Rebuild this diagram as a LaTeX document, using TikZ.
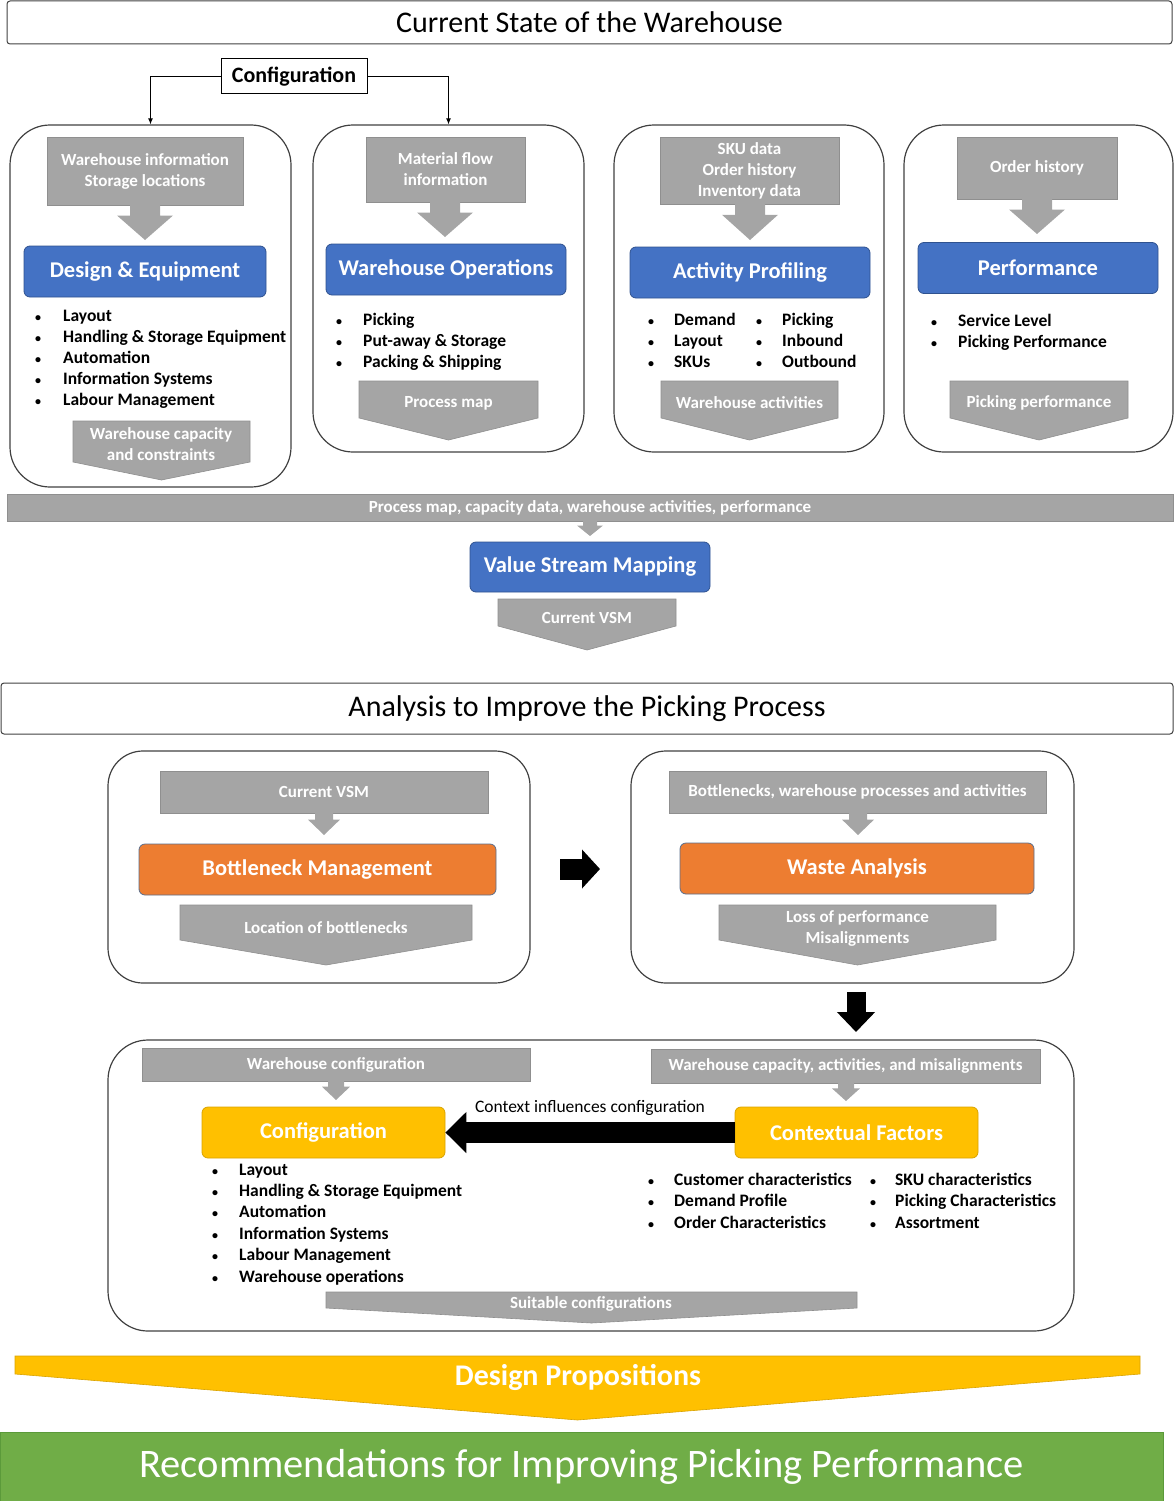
\documentclass[tikz,border=0pt]{standalone}
\usepackage{fontspec}
\setmainfont{Carlito}
\usetikzlibrary{arrows.meta}

\definecolor{gryfill}{HTML}{A5A5A5}
\definecolor{gryline}{HTML}{8F8F8F}
\definecolor{bluefill}{HTML}{4472C4}
\definecolor{blueline}{HTML}{2F528F}
\definecolor{orgfill}{HTML}{ED7D31}
\definecolor{orgline}{HTML}{5A6E8C}
\definecolor{yelfill}{HTML}{FFC000}
\definecolor{yelline}{HTML}{D9A300}
\definecolor{grnfill}{HTML}{70AD47}
\definecolor{grnline}{HTML}{5B9A3A}
\definecolor{frame}{HTML}{404040}

\newcommand\fs[2]{\fontsize{#1}{#2}\selectfont}
\newcommand\bul{{\fs{12}{12}\textbullet}}
% grey down arrow under an input box: centre x, top y, tip y, head half width, stem half width
\newcommand\ginarrow[5]{%
  \fill[gryfill] ({#1-#5},{#2-1}) -- ({#1+#5},{#2-1}) -- ({#1+#5},{#2+0.3*(#3-#2)})
    -- ({#1+#4},{#2+0.3*(#3-#2)}) -- (#1,#3) -- ({#1-#4},{#2+0.3*(#3-#2)})
    -- ({#1-#5},{#2+0.3*(#3-#2)}) -- cycle;}
% grey pentagon pointing down: left x, right x, top y, shoulder y, tip y
\newcommand\outpent[5]{%
  \filldraw[gryfill, draw=gryline, line width=0.6pt] (#1,#3) -- (#2,#3) -- (#2,#4)
    -- ({(#1+#2)/2},#5) -- (#1,#4) -- cycle;}

\tikzset{
  titlebox/.style={draw=frame, line width=1pt, rounded corners=3pt, inner sep=0pt,
    font=\fs{30}{34}},
  grp/.style={draw=frame, line width=1.2pt, inner sep=0pt},
  gin/.style={fill=gryfill, draw=gryline, line width=0.6pt, text=white, inner sep=0pt,
    align=center, font=\bfseries\fs{17}{21}},
  glabel/.style={text=white, inner sep=0pt, align=center, font=\bfseries\fs{17}{21}},
  bluebox/.style={fill=bluefill, draw=blueline, line width=0.8pt, rounded corners=6pt,
    text=white, inner sep=0pt, font=\bfseries\fs{22.5}{26}},
  orgbox/.style={bluebox, fill=orgfill, draw=orgline},
  yelbox/.style={bluebox, fill=yelfill, draw=yelline},
  blist/.style={anchor=base west, inner sep=0pt, font=\bfseries\fs{17.5}{21}},
  conn/.style={draw=black, line width=1pt, -{Latex[length=6pt,width=5pt]}},
  bigarrow/.style={draw=black, line width=#1pt},
}

\begin{document}
\begin{tikzpicture}[x=1pt, y=-1pt]
\useasboundingbox (0,0) rectangle (1175,1501);

% ---------------- Current state ----------------
\node[titlebox, minimum width=1165, minimum height=43] (t1) at (589.5,22.5)
  {Current State of the Warehouse};

\node[draw=black, line width=1pt, inner sep=0pt, minimum width=146, minimum height=35,
  font=\bfseries\fs{22}{26}] (cfgtop) at (294,76.5) {Configuration};

\node[grp, rounded corners=40pt, minimum width=281, minimum height=362] (g1) at (150.5,306) {};
\node[grp, rounded corners=40pt, minimum width=271, minimum height=327] (g2) at (448.5,288.5) {};
\node[grp, rounded corners=40pt, minimum width=270, minimum height=327] (g3) at (749,288.5) {};
\node[grp, rounded corners=40pt, minimum width=269, minimum height=327] (g4) at (1038.5,288.5) {};

\draw[conn] (cfgtop.west) -| (g1.north);
\draw[conn] (cfgtop.east) -| (g2.north);

% Design & Equipment
\node[gin, minimum width=196, minimum height=68] (in1) at (145,171)
  {Warehouse information\\Storage locations};
\ginarrow{145}{205}{240}{28}{15}
\node[bluebox, minimum width=242, minimum height=51] (de) at (145,271.5) {Design \& Equipment};
\node[blist] (l1) at (35,321) {\begin{tabular}[t]{@{}p{28pt}@{}l@{}}
  \bul & Layout\\ \bul & Handling \& Storage Equipment\\
  \bul & Automation\\ \bul & Information Systems\\
  \bul & Labour Management\end{tabular}};
\outpent{73}{250}{421}{462}{480}
\node[glabel] (o1) at (161,444.5) {Warehouse capacity\\and constraints};

% Warehouse Operations
\node[gin, minimum width=159, minimum height=65] (in2) at (445.5,169.5)
  {Material flow\\information};
\ginarrow{445}{202}{237}{28}{15}
\node[bluebox, minimum width=240, minimum height=51] (wo) at (446,269.5) {Warehouse Operations};
\node[blist] (l2) at (336,325) {\begin{tabular}[t]{@{}p{27pt}@{}l@{}}
  \bul & Picking\\ \bul & Put-away \& Storage\\
  \bul & Packing \& Shipping\end{tabular}};
\outpent{359}{538}{381}{418}{440}
\node[glabel] (o2) at (448.5,403) {Process map};

% Activity Profiling
\node[gin, minimum width=179, minimum height=67] (in3) at (749.5,170.5)
  {SKU data\\Order history\\Inventory data};
\ginarrow{750}{204}{240}{28}{15}
\node[bluebox, minimum width=240, minimum height=51] (ap) at (750,272.5) {Activity Profiling};
\node[blist] (l3) at (648,325) {\begin{tabular}[t]{@{}p{26pt}@{}p{82pt}@{}p{26pt}@{}l@{}}
  \bul & Demand & \bul & Picking\\
  \bul & Layout & \bul & Inbound\\
  \bul & SKUs & \bul & Outbound\end{tabular}};
\outpent{661}{838}{381}{418}{440}
\node[glabel] (o3) at (749.5,403) {Warehouse activities};

% Performance
\node[gin, minimum width=160, minimum height=62] (in4) at (1037,168) {Order history};
\ginarrow{1037}{199}{234}{28}{15}
\node[bluebox, minimum width=240, minimum height=51] (pf) at (1038,268) {Performance};
\node[blist] (l4) at (931,326) {\begin{tabular}[t]{@{}p{27pt}@{}l@{}}
  \bul & Service Level\\ \bul & Picking Performance\end{tabular}};
\outpent{950}{1128}{381}{418}{440}
\node[glabel] (o4) at (1039,403) {Picking performance};

% Value stream mapping
\node[gin, minimum width=1166, minimum height=27, font=\bfseries\fs{17}{20}] (bar) at (590,507.5)
  {Process map, capacity data, warehouse activities, performance};
\ginarrow{590}{521}{536}{13}{7}
\node[bluebox, minimum width=240, minimum height=50] (vsm) at (590,567) {Value Stream Mapping};
\outpent{498}{676}{599}{626}{650}
\node[glabel] (o5) at (587,618) {Current VSM};

% ---------------- Analysis ----------------
\node[titlebox, minimum width=1172, minimum height=51] (t2) at (587,708.5)
  {Analysis to Improve the Picking Process};

\node[grp, rounded corners=35pt, minimum width=422, minimum height=232] (ga) at (319,867) {};
\node[gin, minimum width=328, minimum height=42] (ina) at (324,792) {Current VSM};
\ginarrow{324}{813}{835}{16}{9}
\node[orgbox, minimum width=357, minimum height=51] (bm) at (317.5,869.5) {Bottleneck Management};
\outpent{180}{472}{905}{940}{965}
\node[glabel] (oa) at (326,928) {Location of bottlenecks};

\node[grp, rounded corners=35pt, minimum width=443, minimum height=232] (gb) at (852.5,867) {};
\node[gin, minimum width=377, minimum height=42] (inb) at (857.5,792)
  {Bottlenecks, warehouse processes and activities};
\ginarrow{858}{813}{835}{16}{9}
\node[orgbox, minimum width=354, minimum height=51] (wa) at (857,868.5) {Waste Analysis};
\outpent{719}{996}{905}{940}{965}
\node[glabel] (ob) at (857.5,928.5) {Loss of performance\\Misalignments};

\coordinate (ab1) at (560,869);
\coordinate (ab2) at (600,869);
\draw[bigarrow=21, -{Triangle[length=18pt,width=38pt]}] (ab1) -- (ab2);
\coordinate (bc1) at (856,992);
\coordinate (bc2) at (856,1032);
\draw[bigarrow=19, -{Triangle[length=20pt,width=37pt]}] (bc1) -- (bc2);

\node[grp, rounded corners=40pt, minimum width=966, minimum height=291] (gc) at (591,1185.5) {};
\node[gin, minimum width=388, minimum height=33] (inc1) at (336,1064.5) {Warehouse configuration};
\ginarrow{336}{1081}{1100}{14}{8}
\node[gin, minimum width=389, minimum height=34] (inc2) at (845.5,1066)
  {Warehouse capacity, activities, and misalignments};
\ginarrow{846}{1083}{1101}{14}{8}
\node[yelbox, minimum width=243, minimum height=51] (conf) at (323.5,1132.5) {Configuration};
\node[yelbox, minimum width=243, minimum height=51] (ctx) at (856.5,1132.5) {Contextual Factors};
\draw[bigarrow=21, -{Triangle[length=21pt,width=40pt]}] (ctx.west) -- (conf.east)
  node[midway, above=7pt, inner sep=0pt, font=\fs{17.5}{20}] (infl) {Context influences configuration};

\node[blist, font=\bfseries\fs{17.5}{21.4}] (lc1) at (212,1175) {\begin{tabular}[t]{@{}p{27pt}@{}l@{}}
  \bul & Layout\\ \bul & Handling \& Storage Equipment\\
  \bul & Automation\\ \bul & Information Systems\\
  \bul & Labour Management\\ \bul & Warehouse operations\end{tabular}};
\node[blist, font=\bfseries\fs{17.5}{21.5}] (lc2) at (648,1185) {\begin{tabular}[t]{@{}p{26pt}@{}p{196pt}@{}p{25pt}@{}l@{}}
  \bul & Customer characteristics & \bul & SKU characteristics\\
  \bul & Demand Profile & \bul & Picking Characteristics\\
  \bul & Order Characteristics & \bul & Assortment\end{tabular}};

\outpent{326}{857}{1292}{1308}{1323}
\node[glabel] (oc) at (591,1304) {Suitable configurations};

% ---------------- Outcome ----------------
\filldraw[fill=yelfill, draw=yelline, line width=0.6pt] (15,1356) -- (1140,1356) -- (1140,1374)
  -- (577.5,1420) -- (15,1374) -- cycle;
\node[text=white, inner sep=0pt, font=\bfseries\fs{30}{34}] (dp) at (578,1377) {Design Propositions};

\node[fill=grnfill, draw=grnline, line width=0.6pt, minimum width=1163, minimum height=69,
  inner sep=0pt, text=white, font=\fs{40.5}{46}] (rec) at (581.5,1466.5)
  {Recommendations for Improving Picking Performance};
\end{tikzpicture}
\end{document}
